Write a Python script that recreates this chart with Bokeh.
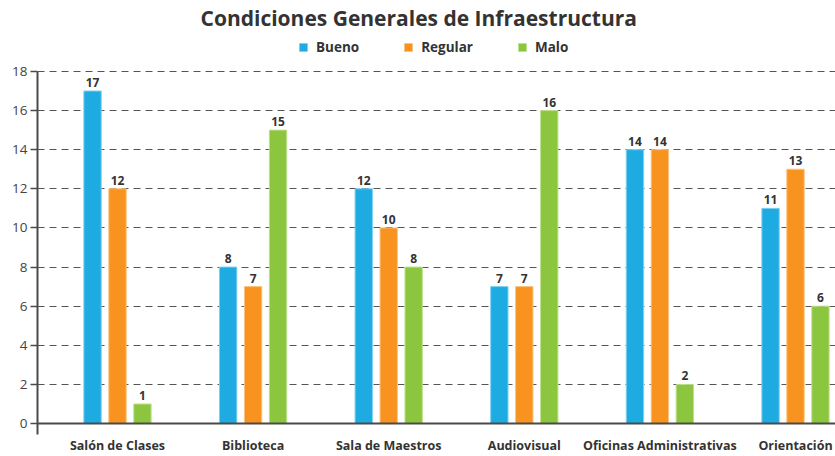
from bokeh.plotting import figure
from bokeh.models import Range1d, FixedTicker, Span, LabelSet, ColumnDataSource, Legend, LegendItem
from bokeh.core.properties import value
from bokeh.transform import dodge
from bokeh.embed import file_html
from bokeh.resources import INLINE

categories = ["Salón de Clases", "Biblioteca", "Sala de Maestros", "Audiovisual",
              "Oficinas Administrativas", "Orientación"]
bueno = [17, 8, 12, 7, 14, 11]
regular = [12, 7, 10, 7, 14, 13]
malo = [1, 15, 8, 16, 2, 6]
series = ["Bueno", "Regular", "Malo"]
colors = ["#1DABE2", "#F7931E", "#8CC63F"]
edge_colors = ["#7FD0F0", "#FBC27E", "#BFE08F"]
y_ticks = [0, 2, 4, 6, 8, 10, 12, 14, 16, 18]

values = {"Bueno": bueno, "Regular": regular, "Malo": malo}
data = {"x": list(range(len(categories)))}
for s in series:
    data[s] = values[s]
    data[s + "_lbl"] = [str(v) for v in values[s]]
source = ColumnDataSource(data)

FONT = "Open Sans"
DARK = "#333333"
AXIS = "#4a4a4a"

p = figure(width=835, height=456, output_backend="svg", toolbar_location=None,
           x_range=Range1d(-0.59, 5.295), y_range=Range1d(-0.56, 19.99),
           min_border_left=37, min_border_right=0, min_border_top=30, min_border_bottom=20)

p.title.text = "Condiciones Generales de Infraestructura"
p.title.align = "left"
p.title.offset = 163
p.title.standoff = 2
p.title.text_font = FONT
p.title.text_font_size = "21px"
p.title.text_font_style = "bold"
p.title.text_color = DARK

offsets = [-0.184, 0.0, 0.184]
items = []
for s, off, c, ec in zip(series, offsets, colors, edge_colors):
    r = p.vbar(x=dodge("x", off), top=s, width=0.128, bottom=0,
               source=source, fill_color=c, line_color=ec, line_width=1)
    items.append(LegendItem(label=s, renderers=[r]))
    lbl = LabelSet(x=dodge("x", off), y=s, text=s + "_lbl", source=source,
                   y_offset=4, text_align="center", text_baseline="bottom",
                   text_font=value(FONT), text_font_size="12px", text_font_style="bold",
                   text_color=DARK)
    p.add_layout(lbl)

legend = Legend(items=items, orientation="horizontal", location=(261, 378),
                glyph_width=10, glyph_height=10, label_standoff=8, spacing=44,
                label_text_font=FONT, label_text_font_size="13.5px",
                label_text_font_style="bold", label_text_color=DARK,
                border_line_color=None, background_fill_alpha=0, padding=3, margin=0)
p.add_layout(legend)

p.add_layout(Span(location=0, dimension="width", line_color=AXIS, line_width=2))

p.yaxis.ticker = FixedTicker(ticks=y_ticks)
p.yaxis.bounds = (-0.56, 18)
p.yaxis.axis_line_color = AXIS
p.yaxis.axis_line_width = 2
p.yaxis.major_tick_line_color = AXIS
p.yaxis.major_tick_line_width = 1.5
p.yaxis.major_tick_out = 7
p.yaxis.major_tick_in = 0
p.yaxis.minor_tick_line_color = None
p.yaxis.major_label_text_font = FONT
p.yaxis.major_label_text_font_size = "13.5px"
p.yaxis.major_label_text_color = "#444444"
p.yaxis.major_label_standoff = 3

p.xaxis.ticker = FixedTicker(ticks=list(range(len(categories))))
p.xaxis.major_label_overrides = {i: c for i, c in enumerate(categories)}
p.xaxis.axis_line_color = None
p.xaxis.major_tick_line_color = None
p.xaxis.major_tick_out = 0
p.xaxis.major_tick_in = 0
p.xaxis.minor_tick_line_color = None
p.xaxis.major_label_text_font = FONT
p.xaxis.major_label_text_font_size = "12.5px"
p.xaxis.major_label_text_font_style = "bold"
p.xaxis.major_label_text_color = DARK
p.xaxis.major_label_standoff = 2

p.xgrid.visible = False
p.ygrid.grid_line_color = "#555555"
p.ygrid.grid_line_dash = "7 5"
p.ygrid.grid_line_width = 1.2
p.outline_line_color = None

open("out.html", "w").write(file_html(p, INLINE))
